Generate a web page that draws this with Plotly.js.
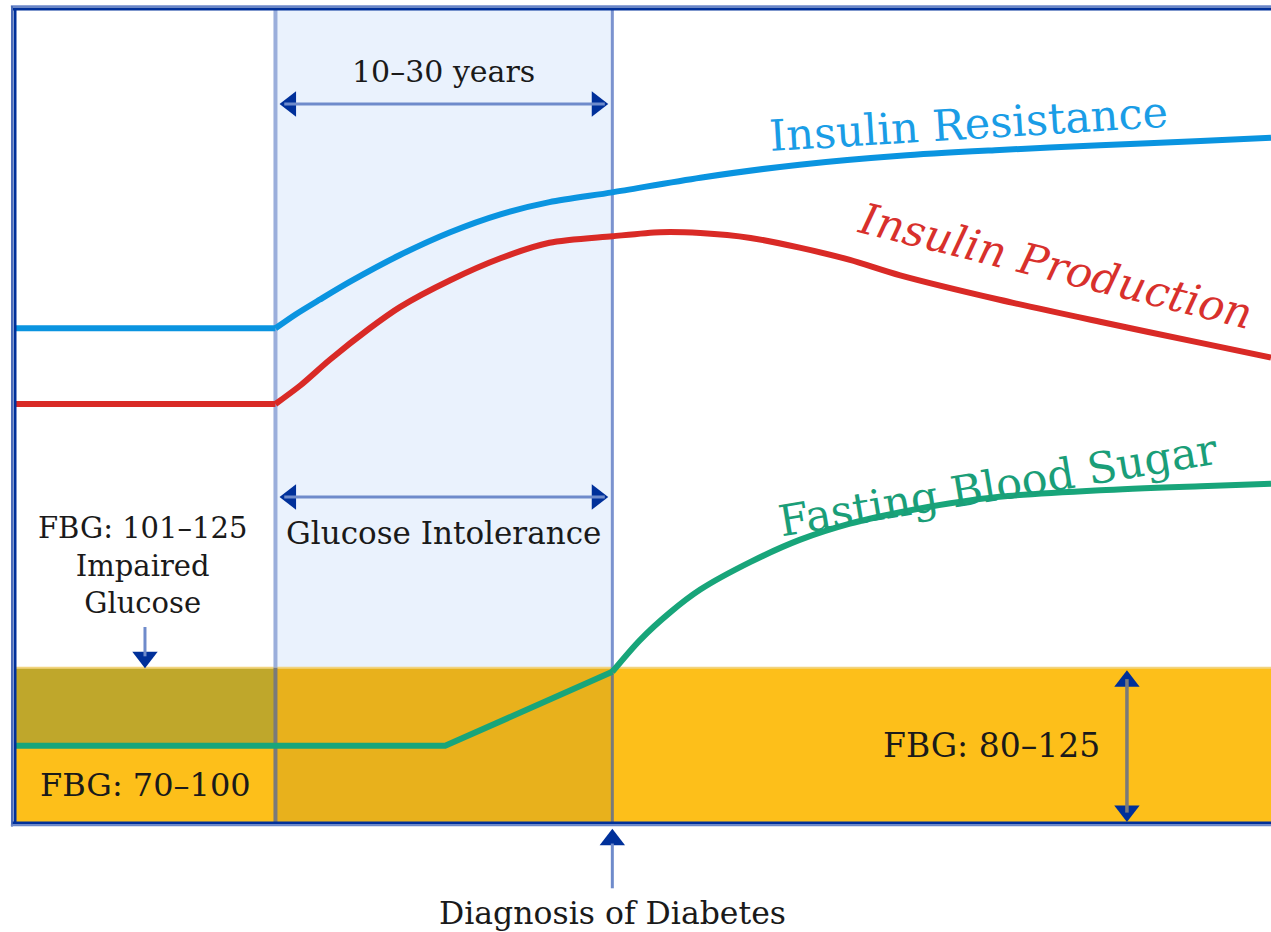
<!DOCTYPE html>
<html><head><meta charset="utf-8">
<script src="https://cdn.plot.ly/plotly-3.0.1.min.js"></script>
<style>html,body{margin:0;padding:0;background:#fff}#chart{width:1271px;height:932px}</style>
</head><body><div id="chart"></div>
<script>
// Horizontal axis: disease timeline (0 = start, 100 = end of frame)
// Vertical axis: relative level (0 = bottom of frame, 100 = top)
const phaseNames = ["Normal", "Glucose Intolerance", "Diabetes"];
const phaseBounds = [0, 20.8, 47.6, 100];   // start, onset of resistance, diagnosis, end
const fbgBandTop = 19.2;                     // top of FBG 80-125 band
const normalBandTop = 9.6;                   // top of FBG 70-100 band (left)

const irX = [0, 20.8, 22.4, 24.3, 26.7, 30.7, 34.7, 38.7, 42.6, 47.6, 54.6, 62.5, 70.5, 78.4, 86.4, 94.4, 100];
const irY = [60.9, 60.9, 62.6, 64.4, 66.6, 69.9, 72.7, 74.9, 76.4, 77.6, 79.4, 81.0, 82.1, 82.8, 83.4, 83.9, 84.3];

const ipX = [0, 20.8, 22.8, 25.1, 28.3, 30.7, 34.7, 38.7, 42.6, 47.6, 51.4, 54.6, 58.6, 62.5, 66.5, 70.5, 78.4, 86.4, 94.4, 100];
const ipY = [51.6, 51.6, 53.9, 57.0, 60.9, 63.5, 66.8, 69.5, 71.4, 72.2, 72.7, 72.6, 72.0, 70.8, 69.3, 67.4, 64.4, 61.7, 59.1, 57.3];

const fbX = [0, 34.3, 47.6, 49.8, 52.2, 54.6, 58.6, 62.5, 66.5, 70.5, 74.5, 78.4, 86.4, 94.4, 100];
const fbY = [9.6, 9.6, 18.7, 22.6, 26.0, 28.8, 32.2, 34.9, 36.9, 38.3, 39.4, 40.2, 41.0, 41.5, 41.8];

const seriesNames = ["Insulin Resistance", "Insulin Production", "Fasting Blood Sugar"];
const bandLabels = ["FBG: 70–100", "FBG: 80–125", "FBG: 101–125", "Impaired", "Glucose"];
const spanLabels = ["10–30 years", "Glucose Intolerance", "Diagnosis of Diabetes"];

const NAVY = "#00309A", SHAFT = "#6F8BCB";
const F = "DejaVu Serif, Liberation Serif, serif";

const [p0, p1, p2, p3] = phaseBounds;

const shapes = [
  {type:"rect", layer:"below", x0:p1, x1:p2, y0:fbgBandTop, y1:100, fillcolor:"#EAF2FD", line:{width:0}},
  {type:"rect", layer:"below", x0:p0, x1:p1, y0:normalBandTop, y1:fbgBandTop, fillcolor:"#BFA72B", line:{width:0}},
  {type:"rect", layer:"below", x0:p0, x1:p1, y0:0, y1:normalBandTop, fillcolor:"#FDBF1A", line:{width:0}},
  {type:"rect", layer:"below", x0:p1, x1:p2, y0:0, y1:fbgBandTop, fillcolor:"#E8B11C", line:{width:0}},
  {type:"rect", layer:"below", x0:p2, x1:p3, y0:0, y1:fbgBandTop, fillcolor:"#FDBF1A", line:{width:0}},
  {type:"line", layer:"below", x0:p0, x1:p3, y0:fbgBandTop, y1:fbgBandTop, line:{color:"#F2D47E", width:2}},
  {type:"line", layer:"below", x0:p1, x1:p1, y0:fbgBandTop, y1:100, line:{color:"#9AAEDB", width:4}},
  {type:"line", layer:"below", x0:p1, x1:p1, y0:0, y1:fbgBandTop, line:{color:"#7A7A7A", width:4}},
  {type:"line", layer:"below", x0:p2, x1:p2, y0:fbgBandTop, y1:100, line:{color:"#7B93CF", width:3}},
  {type:"line", layer:"below", x0:p2, x1:p2, y0:0, y1:fbgBandTop, line:{color:"#7A7A7A", width:3}},
  {type:"line", x0:-0.25, x1:p3, y0:100.45, y1:100.45, line:{color:"#6A86C8", width:2}},
  {type:"line", x0:-0.1, x1:p3, y0:100.12, y1:100.12, line:{color:NAVY, width:3}},
  {type:"line", x0:-0.16, x1:-0.16, y0:-0.3, y1:100.5, line:{color:"#4A6BB8", width:2}},
  {type:"line", x0:0.08, x1:0.08, y0:0, y1:100.2, line:{color:NAVY, width:3}},
  {type:"line", x0:-0.1, x1:p3, y0:0.12, y1:0.12, line:{color:NAVY, width:3}},
  {type:"line", x0:-0.25, x1:p3, y0:-0.16, y1:-0.16, line:{color:"#6A86C8", width:2}},
  {type:"line", x0:21.5, x1:47.0, y0:88.45, y1:88.45, line:{color:SHAFT, width:3}},
  {type:"line", x0:21.5, x1:47.0, y0:40.17, y1:40.17, line:{color:SHAFT, width:3}},
  {type:"line", x0:10.42, x1:10.42, y0:24.2, y1:20.6, line:{color:SHAFT, width:3}},
  {type:"line", x0:88.54, x1:88.54, y0:17.8, y1:1.4, line:{color:"#7A7A7A", width:3.5}},
  {type:"line", x0:p2, x1:p2, y0:-2.4, y1:-7.9, line:{color:SHAFT, width:3}}
];

const heads = {
  type:"scatter", mode:"markers", hoverinfo:"skip", cliponaxis:false, showlegend:false,
  x:[22.0, 46.4, 22.0, 46.4, 10.42, 88.54, 88.54, p2],
  y:[88.45, 88.45, 40.17, 40.17, 20.5, 17.55, 1.6, -1.95],
  marker:{symbol:["triangle-left","triangle-right","triangle-left","triangle-right","triangle-down","triangle-up","triangle-down","triangle-up"],
          size:22, color:NAVY, line:{width:0}}
};

// straight part(s) drawn linear, curved part drawn as spline
const seg = (x, y, name, color, shape, a, b) => ({type:"scatter", mode:"lines",
  x:x.slice(a, b), y:y.slice(a, b), name, hoverinfo:"name", showlegend:false,
  line:{color, width:6, shape, smoothing:0.8}, cliponaxis:false});

const data = [
  seg(irX, irY, seriesNames[0], "#0A94E0", "linear", 0, 2),
  seg(irX, irY, seriesNames[0], "#0A94E0", "spline", 1),
  seg(ipX, ipY, seriesNames[1], "#D92A26", "linear", 0, 2),
  seg(ipX, ipY, seriesNames[1], "#D92A26", "spline", 1),
  seg(fbX, fbY, seriesNames[2], "#18A57A", "linear", 0, 3),
  seg(fbX, fbY, seriesNames[2], "#18A57A", "spline", 2),
  heads
];

const txt = (x, y, text, size, color, extra) => Object.assign({x, y, text, showarrow:false,
  xanchor:"center", yanchor:"middle", font:{family:F, size, color}}, extra || {});

const annotations = [
  txt(34.2, 92.4, spanLabels[0], 30, "#1a1a1a"),
  txt(34.2, 35.8, spanLabels[1], 31, "#1a1a1a"),
  txt(p2, -10.9, spanLabels[2], 31.5, "#1a1a1a"),
  txt(10.2, 31.8, bandLabels[2] + "<br>" + bandLabels[3] + "<br>" + bandLabels[4], 29, "#1a1a1a"),
  txt(10.5, 4.8, bandLabels[0], 32, "#1a1a1a"),
  txt(77.8, 9.7, bandLabels[1], 33, "#1a1a1a"),
  txt(75.9, 86.0, seriesNames[0], 43, "#1A9DE6", {textangle:-3.5}),
  txt(82.9, 68.6, "<i>" + seriesNames[1] + "</i>", 43, "#D8302C", {textangle:14}),
  txt(78.3, 41.6, seriesNames[2], 43, "#1A9E78", {textangle:-9.5})
];

const layout = {
  width:1271, height:932,
  margin:{l:0, r:0, t:0, b:0},
  paper_bgcolor:"#ffffff", plot_bgcolor:"#ffffff",
  showlegend:false, hovermode:false,
  xaxis:{range:[-1.114, 100], visible:false, fixedrange:true},
  yaxis:{range:[-13.268, 101.229], visible:false, fixedrange:true},
  shapes, annotations
};

Plotly.newPlot("chart", data, layout, {displayModeBar:false, staticPlot:true});
</script>
</body></html>
